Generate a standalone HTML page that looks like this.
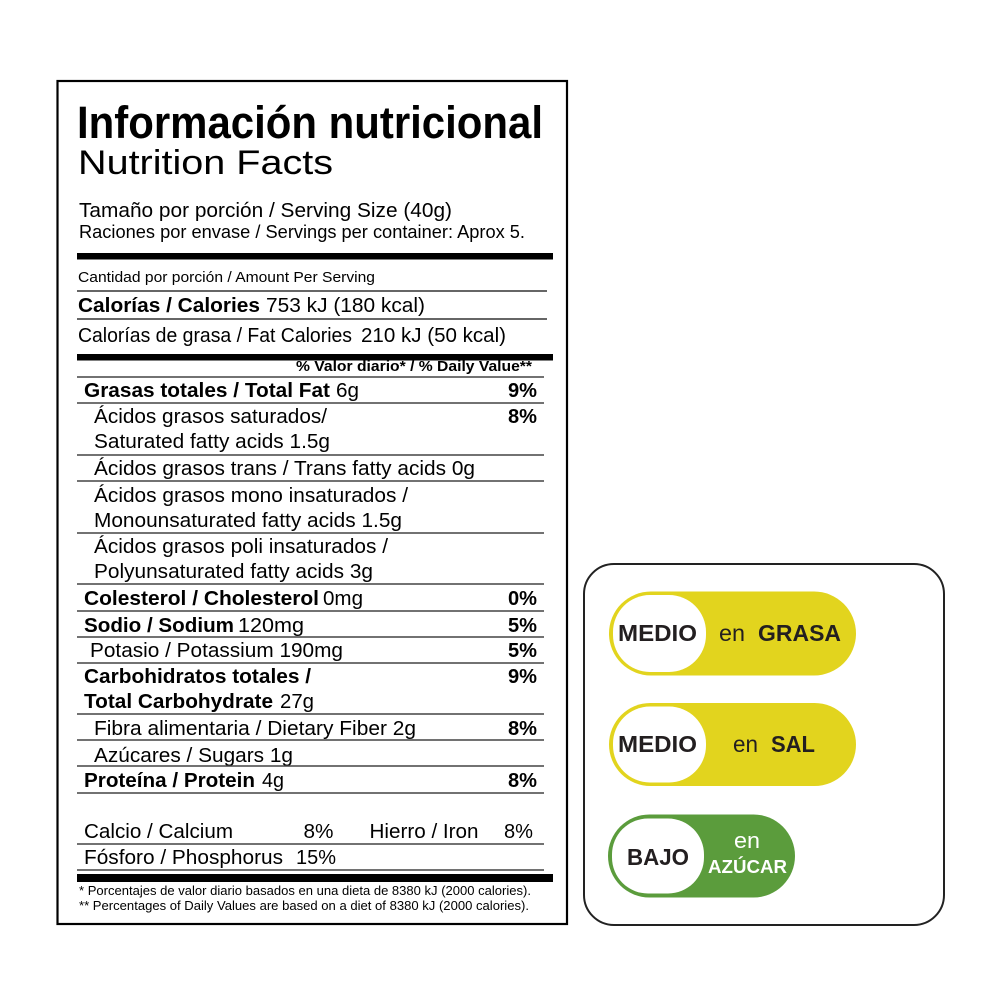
<!DOCTYPE html>
<html>
<head>
<meta charset="utf-8">
<style>
html,body{margin:0;padding:0;background:#fff;}
svg{display:block;}
text{font-family:"Liberation Sans",Arial,Helvetica,sans-serif;fill:#000;}
.b{font-weight:bold;}
.bd{fill:#231f20;}
</style>
</head>
<body>
<svg width="1000" height="1000" viewBox="0 0 1000 1000" xmlns="http://www.w3.org/2000/svg">
<rect x="0" y="0" width="1000" height="1000" fill="#fff"/>

<!-- Nutrition label box -->
<rect x="57.5" y="81" width="509.5" height="843" fill="none" stroke="#000" stroke-width="2.2"/>

<text x="77" y="138" font-size="45" class="b" textLength="466" lengthAdjust="spacingAndGlyphs">Información nutricional</text>
<text x="78" y="174" font-size="34" textLength="255" lengthAdjust="spacingAndGlyphs">Nutrition Facts</text>
<text x="79" y="217" font-size="20" textLength="373" lengthAdjust="spacingAndGlyphs">Tamaño por porción / Serving Size (40g)</text>
<text x="79" y="238" font-size="18" textLength="446" lengthAdjust="spacingAndGlyphs">Raciones por envase / Servings per container: Aprox 5.</text>

<rect x="77" y="253" width="476" height="6.5" fill="#000"/>

<text x="78" y="282" font-size="15" textLength="297" lengthAdjust="spacingAndGlyphs">Cantidad por porción / Amount Per Serving</text>
<line x1="77" y1="291" x2="547" y2="291" stroke="#333" stroke-width="1.4"/>
<text x="78" y="312" font-size="20" class="b" textLength="182" lengthAdjust="spacingAndGlyphs">Calorías / Calories</text>
<text x="266" y="312" font-size="20" textLength="159" lengthAdjust="spacingAndGlyphs">753 kJ (180 kcal)</text>
<line x1="77" y1="319" x2="547" y2="319" stroke="#333" stroke-width="1.4"/>
<text x="78" y="342" font-size="20" textLength="274" lengthAdjust="spacingAndGlyphs">Calorías de grasa / Fat Calories</text>
<text x="361" y="342" font-size="20" textLength="145" lengthAdjust="spacingAndGlyphs">210 kJ (50 kcal)</text>

<text x="296" y="371" font-size="15" class="b" textLength="236" lengthAdjust="spacingAndGlyphs">% Valor diario* / % Daily Value**</text>
<rect x="77" y="354" width="476" height="6.5" fill="#000"/>
<line x1="77" y1="377" x2="544" y2="377" stroke="#444" stroke-width="1.4"/>

<text x="84" y="397" font-size="20" class="b" textLength="246" lengthAdjust="spacingAndGlyphs">Grasas totales / Total Fat</text>
<text x="336" y="397" font-size="20" textLength="23" lengthAdjust="spacingAndGlyphs">6g</text>
<text x="508" y="397" font-size="20" class="b" textLength="29" lengthAdjust="spacingAndGlyphs">9%</text>
<line x1="77" y1="403" x2="544" y2="403" stroke="#444" stroke-width="1.4"/>

<text x="94" y="423" font-size="20" textLength="233" lengthAdjust="spacingAndGlyphs">Ácidos grasos saturados/</text>
<text x="508" y="423" font-size="20" class="b" textLength="29" lengthAdjust="spacingAndGlyphs">8%</text>
<text x="94" y="448" font-size="20" textLength="236" lengthAdjust="spacingAndGlyphs">Saturated fatty acids 1.5g</text>
<line x1="77" y1="455" x2="544" y2="455" stroke="#444" stroke-width="1.4"/>

<text x="94" y="475" font-size="20" textLength="381" lengthAdjust="spacingAndGlyphs">Ácidos grasos trans / Trans fatty acids 0g</text>
<line x1="77" y1="481" x2="544" y2="481" stroke="#444" stroke-width="1.4"/>

<text x="94" y="502" font-size="20" textLength="314" lengthAdjust="spacingAndGlyphs">Ácidos grasos mono insaturados /</text>
<text x="94" y="527" font-size="20" textLength="308" lengthAdjust="spacingAndGlyphs">Monounsaturated fatty acids 1.5g</text>
<line x1="77" y1="533" x2="544" y2="533" stroke="#444" stroke-width="1.4"/>

<text x="94" y="553" font-size="20" textLength="294" lengthAdjust="spacingAndGlyphs">Ácidos grasos poli insaturados /</text>
<text x="94" y="578" font-size="20" textLength="279" lengthAdjust="spacingAndGlyphs">Polyunsaturated fatty acids 3g</text>
<line x1="77" y1="584" x2="544" y2="584" stroke="#444" stroke-width="1.4"/>

<text x="84" y="605" font-size="20" class="b" textLength="235" lengthAdjust="spacingAndGlyphs">Colesterol / Cholesterol</text>
<text x="323" y="605" font-size="20" textLength="40" lengthAdjust="spacingAndGlyphs">0mg</text>
<text x="508" y="605" font-size="20" class="b" textLength="29" lengthAdjust="spacingAndGlyphs">0%</text>
<line x1="77" y1="611" x2="544" y2="611" stroke="#444" stroke-width="1.4"/>

<text x="84" y="632" font-size="20" class="b" textLength="150" lengthAdjust="spacingAndGlyphs">Sodio / Sodium</text>
<text x="238" y="632" font-size="20" textLength="66" lengthAdjust="spacingAndGlyphs">120mg</text>
<text x="508" y="632" font-size="20" class="b" textLength="29" lengthAdjust="spacingAndGlyphs">5%</text>
<line x1="77" y1="637" x2="544" y2="637" stroke="#444" stroke-width="1.4"/>

<text x="90" y="657" font-size="20" textLength="253" lengthAdjust="spacingAndGlyphs">Potasio / Potassium 190mg</text>
<text x="508" y="657" font-size="20" class="b" textLength="29" lengthAdjust="spacingAndGlyphs">5%</text>
<line x1="77" y1="663" x2="544" y2="663" stroke="#444" stroke-width="1.4"/>

<text x="84" y="683" font-size="20" class="b" textLength="227" lengthAdjust="spacingAndGlyphs">Carbohidratos totales /</text>
<text x="508" y="683" font-size="20" class="b" textLength="29" lengthAdjust="spacingAndGlyphs">9%</text>
<text x="84" y="708" font-size="20" class="b" textLength="189" lengthAdjust="spacingAndGlyphs">Total Carbohydrate</text>
<text x="280" y="708" font-size="20" textLength="34" lengthAdjust="spacingAndGlyphs">27g</text>
<line x1="77" y1="714" x2="544" y2="714" stroke="#444" stroke-width="1.4"/>

<text x="94" y="735" font-size="20" textLength="322" lengthAdjust="spacingAndGlyphs">Fibra alimentaria / Dietary Fiber 2g</text>
<text x="508" y="735" font-size="20" class="b" textLength="29" lengthAdjust="spacingAndGlyphs">8%</text>
<line x1="77" y1="740" x2="544" y2="740" stroke="#444" stroke-width="1.4"/>

<text x="94" y="762" font-size="20" textLength="199" lengthAdjust="spacingAndGlyphs">Azúcares / Sugars 1g</text>
<line x1="77" y1="766" x2="544" y2="766" stroke="#444" stroke-width="1.4"/>

<text x="84" y="787" font-size="20" class="b" textLength="171" lengthAdjust="spacingAndGlyphs">Proteína / Protein</text>
<text x="262" y="787" font-size="20" textLength="22" lengthAdjust="spacingAndGlyphs">4g</text>
<text x="508" y="787" font-size="20" class="b" textLength="29" lengthAdjust="spacingAndGlyphs">8%</text>
<line x1="77" y1="793" x2="544" y2="793" stroke="#444" stroke-width="1.4"/>

<text x="84" y="838" font-size="20" textLength="149" lengthAdjust="spacingAndGlyphs">Calcio / Calcium</text>
<text x="303.5" y="838" font-size="20" textLength="30" lengthAdjust="spacingAndGlyphs">8%</text>
<text x="369.5" y="838" font-size="20" textLength="109" lengthAdjust="spacingAndGlyphs">Hierro / Iron</text>
<text x="504" y="838" font-size="20" textLength="29" lengthAdjust="spacingAndGlyphs">8%</text>
<line x1="77" y1="844" x2="544" y2="844" stroke="#444" stroke-width="1.4"/>

<text x="84" y="864" font-size="20" textLength="199" lengthAdjust="spacingAndGlyphs">Fósforo / Phosphorus</text>
<text x="296" y="864" font-size="20" textLength="40" lengthAdjust="spacingAndGlyphs">15%</text>
<line x1="77" y1="870" x2="544" y2="870" stroke="#444" stroke-width="1.4"/>

<rect x="77" y="874" width="476" height="8" fill="#000"/>
<text x="79" y="895" font-size="12.5" textLength="452" lengthAdjust="spacingAndGlyphs">* Porcentajes de valor diario basados en una dieta de 8380 kJ (2000 calories).</text>
<text x="79" y="910" font-size="12.5" textLength="450" lengthAdjust="spacingAndGlyphs">** Percentages of Daily Values are based on a diet of 8380 kJ (2000 calories).</text>

<!-- Badge panel -->
<rect x="584" y="564" width="360" height="361" rx="30" ry="30" fill="#fff" stroke="#222" stroke-width="2"/>

<!-- Badge 1 -->
<rect x="609" y="591.5" width="247" height="84" rx="42" ry="42" fill="#e2d41e"/>
<rect x="613" y="595" width="93" height="77" rx="37" ry="37" fill="#fff"/>
<text x="618" y="641" font-size="23" class="b bd" textLength="79" lengthAdjust="spacingAndGlyphs">MEDIO</text>
<text x="719" y="641" font-size="23" class="bd" textLength="26" lengthAdjust="spacingAndGlyphs">en</text>
<text x="758" y="641" font-size="23" class="b bd" textLength="83" lengthAdjust="spacingAndGlyphs">GRASA</text>

<!-- Badge 2 -->
<rect x="609" y="703" width="247" height="83" rx="41.5" ry="41.5" fill="#e2d41e"/>
<rect x="613" y="706.5" width="93" height="76" rx="37" ry="37" fill="#fff"/>
<text x="618" y="752" font-size="23" class="b bd" textLength="79" lengthAdjust="spacingAndGlyphs">MEDIO</text>
<text x="733" y="752" font-size="23" class="bd" textLength="25" lengthAdjust="spacingAndGlyphs">en</text>
<text x="771" y="752" font-size="23" class="b bd" textLength="44" lengthAdjust="spacingAndGlyphs">SAL</text>

<!-- Badge 3 -->
<rect x="608" y="814.5" width="187" height="83" rx="41.5" ry="41.5" fill="#5b9c3c"/>
<rect x="612" y="818.5" width="92" height="75" rx="36" ry="36" fill="#fff"/>
<text x="627" y="865" font-size="23" class="b bd" textLength="62" lengthAdjust="spacingAndGlyphs">BAJO</text>
<text x="734" y="848" font-size="22" style="fill:#fff" textLength="26" lengthAdjust="spacingAndGlyphs">en</text>
<text x="708" y="873" font-size="18" class="b" style="fill:#fff" textLength="79" lengthAdjust="spacingAndGlyphs">AZÚCAR</text>
</svg>
</body>
</html>
